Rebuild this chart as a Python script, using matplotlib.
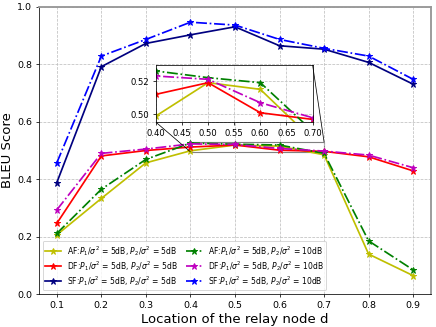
import matplotlib
matplotlib.use("Agg")
import matplotlib.pyplot as plt
from mpl_toolkits.axes_grid1.inset_locator import mark_inset
import numpy as np

x = [0.1, 0.2, 0.3, 0.4, 0.5, 0.6, 0.7, 0.8, 0.9]

af_5 = [0.206, 0.333, 0.457, 0.499, 0.519, 0.515, 0.485, 0.139, 0.064]
df_5 = [0.246, 0.481, 0.500, 0.512, 0.519, 0.501, 0.497, 0.478, 0.429]
sf_5 = [0.388, 0.792, 0.873, 0.903, 0.931, 0.865, 0.853, 0.807, 0.731]
af_10 = [0.211, 0.365, 0.469, 0.526, 0.522, 0.519, 0.490, 0.185, 0.084]
df_10 = [0.293, 0.490, 0.505, 0.523, 0.521, 0.507, 0.498, 0.484, 0.440]
sf_10 = [0.457, 0.829, 0.887, 0.947, 0.937, 0.887, 0.856, 0.829, 0.748]

labels = [
    r"AF:$P_1/\sigma^2$ = 5dB, $P_2/\sigma^2$ = 5dB",
    r"DF:$P_1/\sigma^2$ = 5dB, $P_2/\sigma^2$ = 5dB",
    r"SF:$P_1/\sigma^2$ = 5dB, $P_2/\sigma^2$ = 5dB",
    r"AF:$P_1/\sigma^2$ = 5dB, $P_2/\sigma^2$ = 10dB",
    r"DF:$P_1/\sigma^2$ = 5dB, $P_2/\sigma^2$ = 10dB",
    r"SF:$P_1/\sigma^2$ = 5dB, $P_2/\sigma^2$ = 10dB",
]
series = [af_5, df_5, sf_5, af_10, df_10, sf_10]
colors = ["y", "r", "navy", "g", "m", "b"]
styles = ["-", "-", "-", "-.", "-.", "-."]

fig = plt.figure(figsize=(6.4, 4.8), dpi=68.125)
ax = fig.add_axes([0.0894, 0.1009, 0.8991, 0.8777])

for ys, c, ls, lab in zip(series, colors, styles, labels):
    ax.plot(x, ys, color=c, linestyle=ls, marker="*", markersize=7, linewidth=1.8, label=lab)

ax.set_ylim(0, 1.0)
ax.set_xticks(x)
ax.set_yticks([0.0, 0.2, 0.4, 0.6, 0.8, 1.0])
ax.grid(True, linestyle="--", color="0.75", linewidth=0.8)
ax.set_xlabel("Location of the relay node d", fontsize=14)
ax.set_ylabel("BLEU Score", fontsize=14)
ax.tick_params(labelsize=10)
for s in ["top", "right"]:
    ax.spines[s].set_color("0.6")
    ax.spines[s].set_linewidth(2)
ax.legend(loc="lower left", ncol=2, fontsize=8, framealpha=0.8,
          labelspacing=0.15, borderpad=0.35, columnspacing=1.2)

axins = ax.inset_axes([0.298, 0.599, 0.40, 0.199])
for ys, c, ls in zip(series, colors, styles):
    axins.plot(x, ys, color=c, linestyle=ls, marker="*", markersize=7, linewidth=1.8)
axins.set_xlim(0.4, 0.7)
axins.set_ylim(0.4954, 0.5296)
axins.set_xticks([0.40, 0.45, 0.50, 0.55, 0.60, 0.65, 0.70])
axins.set_yticks([0.50, 0.52])
axins.set_yticklabels(["0.50", "0.52"])
axins.tick_params(labelsize=9)
axins.grid(True, linestyle="--", color="0.75", linewidth=0.8)
axins.set_facecolor("white")
rect, c1, c2 = mark_inset(ax, axins, loc1=1, loc2=3, fc="none", ec="0.5", lw=1.2)
for c in (c1, c2):
    c.set_edgecolor("black")
    c.set_linewidth(0.8)

fig.savefig("out.png", dpi=68.125)
